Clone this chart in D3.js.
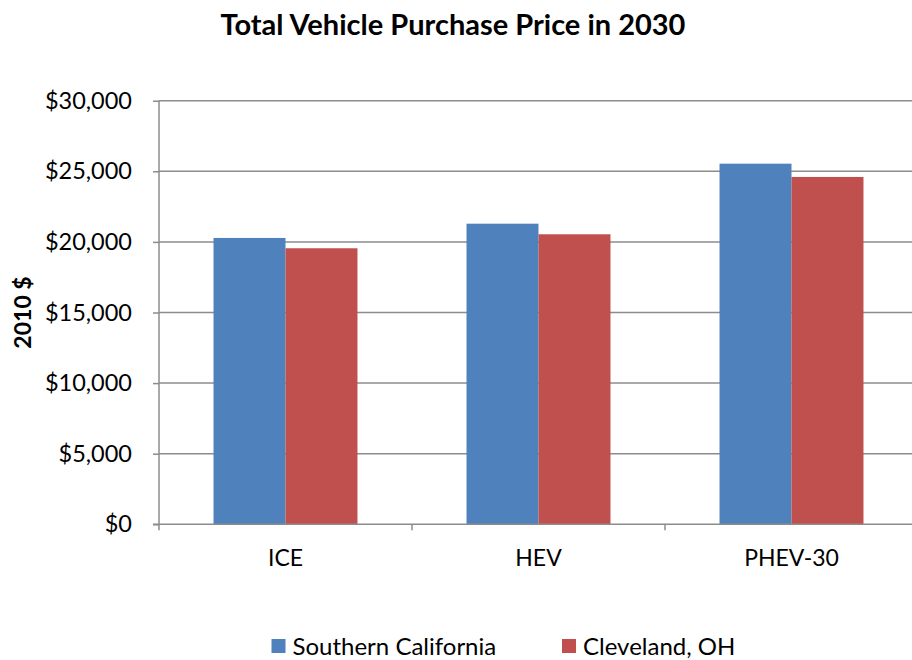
<!DOCTYPE html>
<html>
<head>
<meta charset="utf-8">
<script src="https://cdn.jsdelivr.net/npm/d3@7"></script>
<style>
  html, body { margin: 0; padding: 0; background: #fff; }
  svg { display: block; font-family: Lato, "Open Sans", sans-serif; }
</style>
</head>
<body>
<div id="chart"></div>
<script>
const categories = ["ICE", "HEV", "PHEV-30"];
const seriesNames = ["Southern California", "Cleveland, OH"];
const southernCalifornia = [20280, 21290, 25540];
const clevelandOH = [19550, 20540, 24600];
const yTicks = [0, 5000, 10000, 15000, 20000, 25000, 30000];
const colors = ["#4F81BD", "#C0504D"];

const W = 912, H = 660;
const margin = { left: 159, right: -6, top: 100.7, bottom: 660 - 524.3 };

const svg = d3.select("#chart").append("svg")
  .attr("width", W).attr("height", H);

const x0 = d3.scaleBand().domain(categories)
  .range([margin.left, W - margin.right])
  .paddingInner(0.431).paddingOuter(0.2155);
const x1 = d3.scaleBand().domain(seriesNames).range([0, x0.bandwidth()]);
const y = d3.scaleLinear().domain([0, 30000]).range([H - margin.bottom, margin.top]);

const values = [southernCalifornia, clevelandOH];
const data = categories.map((c, i) => ({ cat: c, vals: seriesNames.map((s, j) => ({ s, j, v: values[j][i] })) }));

// gridlines
svg.append("g").selectAll("line").data(yTicks.filter(d => d > 0)).join("line")
  .attr("x1", margin.left).attr("x2", W - margin.right)
  .attr("y1", d => y(d)).attr("y2", d => y(d))
  .attr("stroke", "#8c8c8c").attr("stroke-width", 1.5);

// bars
svg.append("g").selectAll("g").data(data).join("g")
  .attr("transform", d => `translate(${x0(d.cat)},0)`)
  .selectAll("rect").data(d => d.vals).join("rect")
  .attr("x", d => x1(d.s)).attr("width", x1.bandwidth())
  .attr("y", d => y(d.v)).attr("height", d => y(0) - y(d.v))
  .attr("fill", d => colors[d.j]);

// y axis
const yAxis = svg.append("g").attr("transform", `translate(${margin.left},0)`)
  .call(d3.axisLeft(y).tickValues(yTicks).tickSize(6).tickPadding(21)
    .tickFormat(d => "$" + d3.format(",")(d)));
yAxis.selectAll("line,path").attr("stroke", "#8c8c8c").attr("stroke-width", 1.5);
yAxis.select("path").attr("d", `M0,${y(0)}V${y(30000)}`);
yAxis.selectAll("text").attr("font-size", 23.5).attr("fill", "#000")
  .attr("font-family", "Lato, sans-serif");

// x axis
const xAxis = svg.append("g").attr("transform", `translate(0,${y(0)})`)
  .call(d3.axisBottom(x0).tickSize(0).tickPadding(25));
xAxis.select("path").attr("stroke", "#8c8c8c").attr("stroke-width", 1.5)
  .attr("d", `M${margin.left - 6},0H${W - margin.right}`);
xAxis.selectAll("text").attr("font-size", 23).attr("fill", "#000")
  .attr("font-family", "Lato, sans-serif");
// category boundary ticks
const step = x0.step();
const bounds = d3.range(categories.length + 1).map(i => margin.left + i * step);
svg.append("g").selectAll("line").data(bounds).join("line")
  .attr("x1", d => d).attr("x2", d => d)
  .attr("y1", y(0)).attr("y2", y(0) + 6)
  .attr("stroke", "#8c8c8c").attr("stroke-width", 1.5);

// title
svg.append("text").attr("x", 453).attr("y", 35).attr("text-anchor", "middle")
  .attr("font-size", 29).attr("font-weight", "bold").attr("fill", "#000")
  .text("Total Vehicle Purchase Price in 2030");

// y axis title
svg.append("text").attr("transform", `translate(31,${(y(0) + y(30000)) / 2}) rotate(-90)`)
  .attr("text-anchor", "middle").attr("font-size", 23).attr("font-weight", "bold")
  .attr("fill", "#000").text("2010 $");

// legend
const legendX = [271.5, 562];
const lg = svg.append("g").selectAll("g").data(seriesNames).join("g")
  .attr("transform", (d, i) => `translate(${legendX[i]},639)`);
lg.append("rect").attr("width", 14).attr("height", 14).attr("fill", (d, i) => colors[i]);
lg.append("text").attr("x", 21).attr("y", 15.5).attr("font-size", 24).attr("fill", "#000")
  .text(d => d);
</script>
</body>
</html>
